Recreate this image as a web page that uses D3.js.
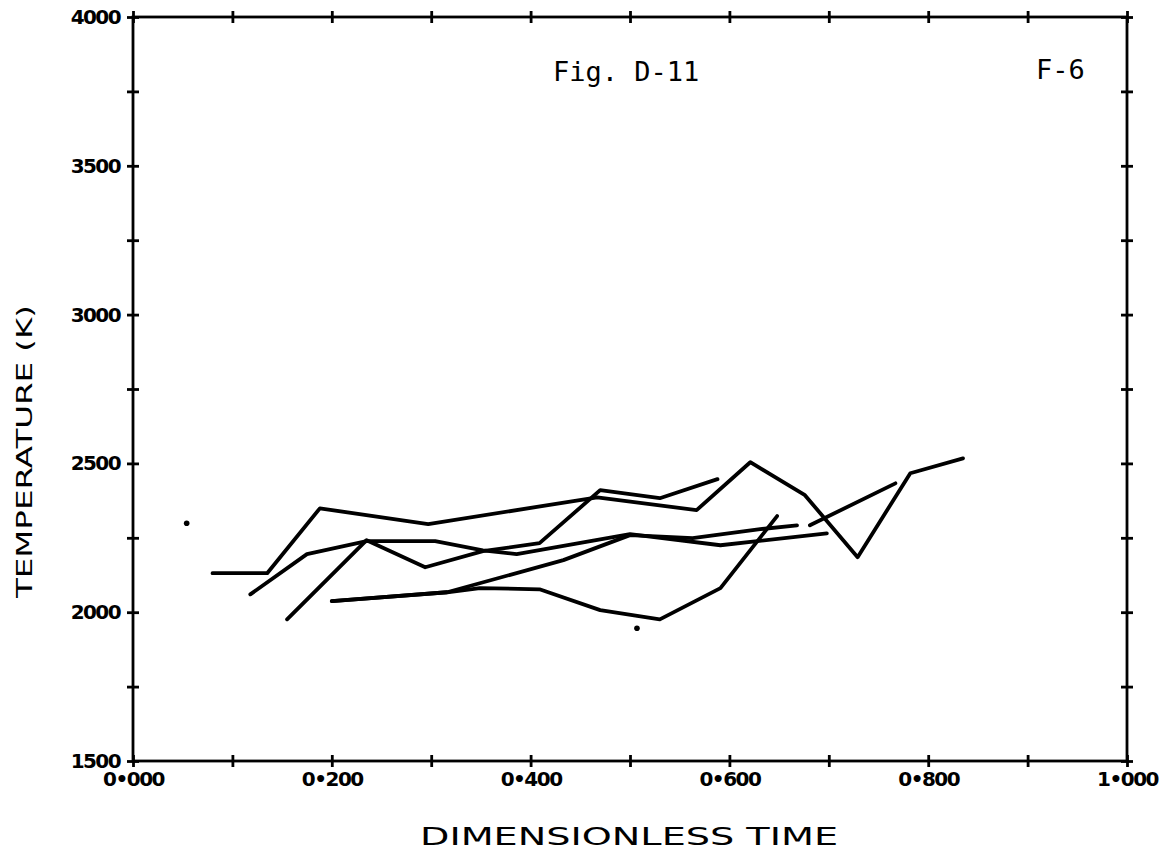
<!DOCTYPE html>
<html>
<head>
<meta charset="utf-8">
<script src="https://cdn.jsdelivr.net/npm/d3@7"></script>
<style>
  html, body { margin: 0; padding: 0; background: #fff; }
  svg { display: block; }
</style>
</head>
<body>
<svg id="chart" width="1165" height="856"></svg>
<script>
// ---- data ----
const xTicks = [0, 0.1, 0.2, 0.3, 0.4, 0.5, 0.6, 0.7, 0.8, 0.9, 1.0];
const xTickLabels = ["0\u2022000", "", "0\u2022200", "", "0\u2022400", "", "0\u2022600", "", "0\u2022800", "", "1\u2022000"];
const yTicks = [1500, 1750, 2000, 2250, 2500, 2750, 3000, 3250, 3500, 3750, 4000];
const yTickLabels = ["1500", "", "2000", "", "2500", "", "3000", "", "3500", "", "4000"];

const seriesA = [[0.080, 2131], [0.135, 2131], [0.188, 2349], [0.297, 2296], [0.467, 2386], [0.567, 2343],
                 [0.621, 2504], [0.676, 2393], [0.729, 2185], [0.782, 2467], [0.835, 2517]];
const seriesB = [[0.118, 2060], [0.175, 2195], [0.235, 2239], [0.304, 2239], [0.352, 2208], [0.386, 2195],
                 [0.500, 2262], [0.591, 2225], [0.698, 2265]];
const seriesC = [[0.155, 1976], [0.235, 2242], [0.294, 2151], [0.352, 2205], [0.409, 2232], [0.470, 2410],
                 [0.530, 2383], [0.588, 2447]];
const seriesD = [[0.200, 2037], [0.316, 2067], [0.433, 2175], [0.500, 2259], [0.563, 2249], [0.631, 2279],
                 [0.668, 2292], null, [0.681, 2292], [0.767, 2433]];
const seriesE = [[0.200, 2037], [0.316, 2067], [0.349, 2081], [0.409, 2077], [0.470, 2007], [0.530, 1976],
                 [0.591, 2081], [0.648, 2323]];
const loosePoints = [[0.054, 2299], [0.507, 1946]];

const title = "Fig. D-11";
const subTitle = "F-6";
const xLabel = "DIMENSIONLESS TIME";
const yLabel = "TEMPERATURE (K)";

// ---- layout ----
const svg = d3.select("#chart");
const pLeft = 133, pRight = 1127, pTop = 17, pBottom = 761;

const x = d3.scaleLinear().domain([0, 1]).range([pLeft, pRight]);
const y = d3.scaleLinear().domain([1500, 4000]).range([pBottom, pTop]);

const tickFont = "'DejaVu Sans', sans-serif";

// frame
svg.append("rect")
  .attr("x", pLeft).attr("y", pTop)
  .attr("width", pRight - pLeft).attr("height", pBottom - pTop)
  .attr("fill", "none").attr("stroke", "#000").attr("stroke-width", 2.8);

function styleAxis(g) {
  g.select(".domain").remove();
  g.selectAll(".tick line").attr("stroke", "#000").attr("stroke-width", 2.8);
}

// left axis (labelled) + crossing ticks
svg.append("g").attr("transform", `translate(${pLeft},0)`)
  .call(d3.axisLeft(y).tickValues(yTicks).tickSize(6).tickPadding(7)
    .tickFormat((d, i) => yTickLabels[i]))
  .call(styleAxis)
  .call(g => g.selectAll("text")
    .attr("font-family", tickFont).attr("font-weight", "bold")
    .attr("font-size", 20).attr("fill", "#000").attr("letter-spacing", -1.6));
svg.append("g").attr("transform", `translate(${pLeft},0)`)
  .call(d3.axisRight(y).tickValues(yTicks).tickSize(6).tickFormat(""))
  .call(styleAxis);

// right axis crossing ticks
svg.append("g").attr("transform", `translate(${pRight},0)`)
  .call(d3.axisRight(y).tickValues(yTicks).tickSize(6).tickFormat(""))
  .call(styleAxis);
svg.append("g").attr("transform", `translate(${pRight},0)`)
  .call(d3.axisLeft(y).tickValues(yTicks).tickSize(6).tickFormat(""))
  .call(styleAxis);

// bottom axis (labelled) + crossing ticks
svg.append("g").attr("transform", `translate(0,${pBottom})`)
  .call(d3.axisBottom(x).tickValues(xTicks).tickSize(6).tickPadding(5)
    .tickFormat((d, i) => xTickLabels[i]))
  .call(styleAxis)
  .call(g => g.selectAll("text")
    .attr("font-family", tickFont).attr("font-weight", "bold")
    .attr("font-size", 20).attr("fill", "#000").attr("letter-spacing", -1.5));
svg.append("g").attr("transform", `translate(0,${pBottom})`)
  .call(d3.axisTop(x).tickValues(xTicks).tickSize(6).tickFormat(""))
  .call(styleAxis);

// top axis crossing ticks
svg.append("g").attr("transform", `translate(0,${pTop})`)
  .call(d3.axisTop(x).tickValues(xTicks).tickSize(6).tickFormat(""))
  .call(styleAxis);
svg.append("g").attr("transform", `translate(0,${pTop})`)
  .call(d3.axisBottom(x).tickValues(xTicks).tickSize(6).tickFormat(""))
  .call(styleAxis);

// data lines
const line = d3.line()
  .defined(d => d !== null)
  .x(d => x(d[0])).y(d => y(d[1]));

const allSeries = [seriesA, seriesB, seriesC, seriesD, seriesE];
svg.append("g").selectAll("path").data(allSeries).join("path")
  .attr("d", line)
  .attr("fill", "none").attr("stroke", "#000")
  .attr("stroke-width", 3.8)
  .attr("stroke-linejoin", "round").attr("stroke-linecap", "round");

svg.append("g").selectAll("circle").data(loosePoints).join("circle")
  .attr("cx", d => x(d[0])).attr("cy", d => y(d[1])).attr("r", 2.8).attr("fill", "#000");

// titles
svg.append("text").attr("x", 553).attr("y", 81)
  .attr("font-family", "'DejaVu Sans Mono', monospace").attr("font-size", 27)
  .attr("fill", "#000").text(title);
svg.append("text").attr("x", 1036).attr("y", 79)
  .attr("font-family", "'DejaVu Sans Mono', monospace").attr("font-size", 27)
  .attr("fill", "#000").text(subTitle);

// axis labels
svg.append("text")
  .attr("x", 420).attr("y", 845)
  .attr("font-family", "'DejaVu Sans', sans-serif").attr("font-size", 24)
  .attr("textLength", 418).attr("lengthAdjust", "spacingAndGlyphs")
  .attr("fill", "#000").text(xLabel);

svg.append("text")
  .attr("transform", "translate(32,598) rotate(-90)")
  .attr("x", 0).attr("y", 0)
  .attr("font-family", "'DejaVu Sans', sans-serif").attr("font-size", 22)
  .attr("textLength", 293).attr("lengthAdjust", "spacingAndGlyphs")
  .attr("fill", "#000").text(yLabel);
</script>
</body>
</html>
